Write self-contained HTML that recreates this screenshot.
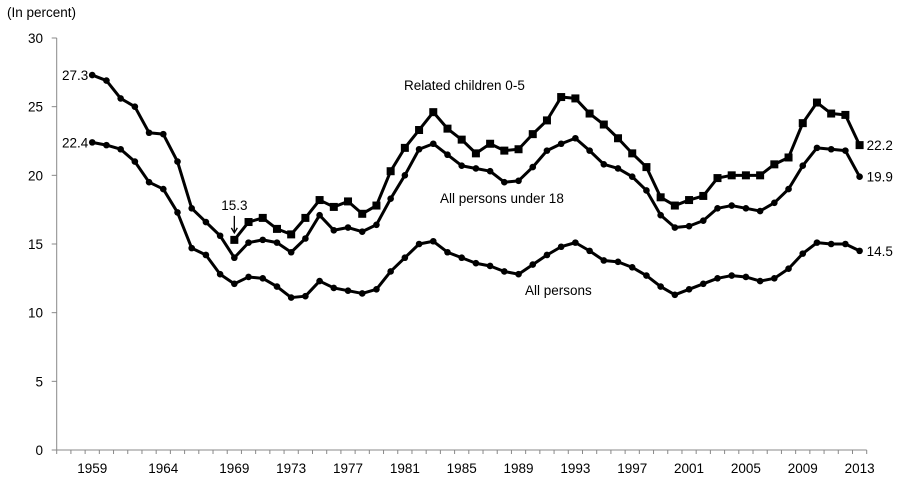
<!DOCTYPE html>
<html><head><meta charset="utf-8"><style>
body{margin:0;background:#fff}
svg text{font-family:"Liberation Sans",Arial,sans-serif;font-size:13.5px;fill:#000}
</style></head><body>
<svg id="c" width="907" height="488">
<text x="7" y="17">(In percent)</text>
</svg>
<script>
const firstYear = 1957, lastYear = 2013;
const allYears = [];
for (let y = 1959; y <= 2013; y++) allYears.push(y);
const childYears = [];
for (let y = 1969; y <= 2013; y++) childYears.push(y);
const allPersons = [22.4,22.2,21.9,21.0,19.5,19.0,17.3,14.7,14.2,12.8,12.1,12.6,12.5,11.9,11.1,11.2,12.3,11.8,11.6,11.4,11.7,13.0,14.0,15.0,15.2,14.4,14.0,13.6,13.4,13.0,12.8,13.5,14.2,14.8,15.1,14.5,13.8,13.7,13.3,12.7,11.9,11.3,11.7,12.1,12.5,12.7,12.6,12.3,12.5,13.2,14.3,15.1,15.0,15.0,14.5];
const under18 = [27.3,26.9,25.6,25.0,23.1,23.0,21.0,17.6,16.6,15.6,14.0,15.1,15.3,15.1,14.4,15.4,17.1,16.0,16.2,15.9,16.4,18.3,20.0,21.9,22.3,21.5,20.7,20.5,20.3,19.5,19.6,20.6,21.8,22.3,22.7,21.8,20.8,20.5,19.9,18.9,17.1,16.2,16.3,16.7,17.6,17.8,17.6,17.4,18.0,19.0,20.7,22.0,21.9,21.8,19.9];
const children05 = [15.3,16.6,16.9,16.1,15.7,16.9,18.2,17.7,18.1,17.2,17.8,20.3,22.0,23.3,24.6,23.4,22.6,21.6,22.3,21.8,21.9,23.0,24.0,25.7,25.6,24.5,23.7,22.7,21.6,20.6,18.4,17.8,18.2,18.5,19.8,20.0,20.0,20.0,20.8,21.3,23.8,25.3,24.5,24.4,22.2];
const yTicks = [0,5,10,15,20,25,30];
const xLabels = [1959,1964,1969,1973,1977,1981,1985,1989,1993,1997,2001,2005,2009,2013];

const NS = "http://www.w3.org/2000/svg";
const svg = document.getElementById('c');
const x0 = 56.7, x1 = 866.7, yB = 450, yT = 38;
const bw = (x1 - x0) / (lastYear - firstYear + 1);
const X = yr => x0 + (yr - firstYear + 0.5) * bw;
const Y = v => yB - v / 30 * (yB - yT);
function mk(tag, attrs) { const e = document.createElementNS(NS, tag); for (const k in attrs) e.setAttribute(k, attrs[k]); svg.appendChild(e); return e; }

let e = mk('line', {x1: x0, y1: yT, x2: x0, y2: yB, stroke: '#888', 'stroke-width': 1});


e = mk('line', {x1: x0, y1: yB, x2: x1, y2: yB, stroke: '#888', 'stroke-width': 1});


yTicks.forEach(t => {
  const l = mk('line', {x1: x0 - 5, y1: Y(t), x2: x0, y2: Y(t), stroke: '#888'});
  
  
  const tx = mk('text', {x: 43, y: Y(t) + 5, 'text-anchor': 'end'});
  tx.textContent = t;
  
  
});
for (let i = 0; i <= lastYear - firstYear + 1; i++) {
  const l = mk('line', {x1: x0 + i * bw, y1: yB, x2: x0 + i * bw, y2: yB + 4, stroke: '#888'});
  
  
}
xLabels.forEach(yr => {
  const tx = mk('text', {x: X(yr), y: 473, 'text-anchor': 'middle'});
  tx.textContent = yr;
  
  
});
function series(years, vals, name, square) {
  const p = mk('polyline', {points: years.map((y, i) => X(y) + ',' + Y(vals[i])).join(' '), fill: 'none', stroke: '#000', 'stroke-width': 3, 'stroke-linejoin': 'round'});
  
  
  years.forEach((y, i) => {
    let m;
    if (square) m = mk('rect', {x: X(y) - 4, y: Y(vals[i]) - 4, width: 8, height: 8, fill: '#000'});
    else m = mk('circle', {cx: X(y), cy: Y(vals[i]), r: 3.3, fill: '#000'});
    
    
  });
}
series(allYears, allPersons, 'all-persons', false);
series(allYears, under18, 'under-18', false);
series(childYears, children05, 'children-0-5', true);
function label(x, y, s, name, anchor) {
  const t = mk('text', {x: x, y: y, 'text-anchor': anchor || 'start'});
  t.textContent = s;
  
  
}
label(X(1959) - 4, Y(under18[0]) + 5, under18[0].toFixed(1), 'start-label-under-18', 'end');
label(X(1959) - 4, Y(allPersons[0]) + 5, allPersons[0].toFixed(1), 'start-label-all-persons', 'end');
label(X(1969), Y(children05[0]) - 30, children05[0].toFixed(1), 'start-label-children', 'middle');
const ar = mk('path', {d: `M${X(1969)},${Y(children05[0]) - 24} L${X(1969)},${Y(children05[0]) - 8} M${X(1969) - 3},${Y(children05[0]) - 12} L${X(1969)},${Y(children05[0]) - 7} L${X(1969) + 3},${Y(children05[0]) - 12}`, stroke: '#000', fill: 'none', 'stroke-width': 1.3});


label(X(2013) + 7, Y(children05[children05.length - 1]) + 5, children05[children05.length - 1].toFixed(1), 'end-label-children');
label(X(2013) + 7, Y(under18[under18.length - 1]) + 5, under18[under18.length - 1].toFixed(1), 'end-label-under-18');
label(X(2013) + 7, Y(allPersons[allPersons.length - 1]) + 5, allPersons[allPersons.length - 1].toFixed(1), 'end-label-all-persons');
label(404, 90, 'Related children 0-5', 'series-label-children');
label(440, 203, 'All persons under 18', 'series-label-under-18');
label(525, 295, 'All persons', 'series-label-all-persons');
</script>
</body></html>
